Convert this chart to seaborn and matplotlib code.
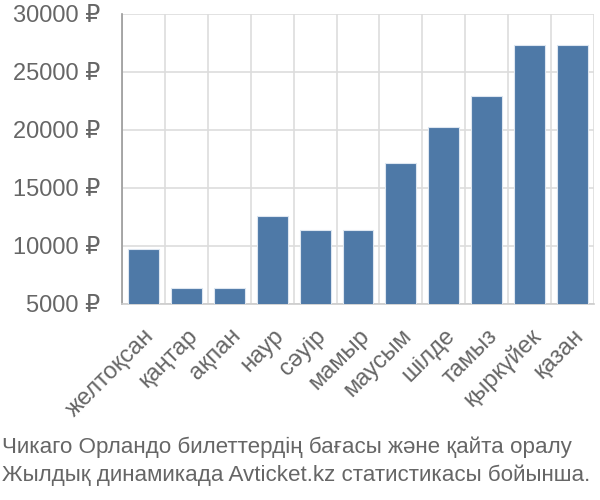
import matplotlib
matplotlib.use("Agg")
import matplotlib.pyplot as plt
from matplotlib import font_manager
import seaborn as sns
import pandas as pd
import numpy as np

months = ["желтоқсан", "қаңтар", "ақпан", "наур", "сәуір", "мамыр",
          "маусым", "шілде", "тамыз", "қыркүйек", "қазан"]
prices = [9700, 6350, 6350, 12600, 11350, 11350, 17150, 20300, 22900, 27350, 27350]
yticks = [5000, 10000, 15000, 20000, 25000, 30000]
caption = ["Чикаго Орландо билеттердің бағасы және қайта оралу",
           "Жылдық динамикада Avticket.kz статистикасы бойынша."]

sns.set_theme(style="white")
plt.rcParams['font.family'] = ['Liberation Sans', 'DejaVu Sans']

# pick a narrow font for the caption if available
narrow_ok = False
try:
    p = font_manager.findfont(font_manager.FontProperties(family="Liberation Sans Narrow"),
                              fallback_to_default=False)
    narrow_ok = "Narrow" in p
except Exception:
    narrow_ok = False
if narrow_ok:
    cap_fam = ['Liberation Sans Narrow', 'DejaVu Sans']
    cap_size = 20
else:
    cap_fam = ['Liberation Sans', 'DejaVu Sans']
    cap_size = 16.1

df = pd.DataFrame({"month": months, "price": prices})

fig = plt.figure(figsize=(6, 5), dpi=100)
ax = fig.add_axes([122/600, 1 - 304/500, (594-122)/600, (304-14)/500])

sns.barplot(data=df, x="month", y="price", color="#4e79a7", saturation=1,
            width=0.72, edgecolor="#dde6f0", linewidth=0.8, ax=ax, zorder=3)

ax.set_ylim(5000, 30000)
ax.set_xlim(-0.5, len(months) - 0.5)
ax.set_yticks(yticks)
ax.set_yticklabels([f"{v} ₽" for v in yticks])
ax.set_xlabel("")
ax.set_ylabel("")

# grid
ax.set_xticks(np.arange(-0.5, len(months), 1.0), minor=True)
ax.grid(axis="y", which="major", color="#dddddd", linewidth=1.2, zorder=0)
ax.grid(axis="x", which="minor", color="#dddddd", linewidth=1.2, zorder=0)
ax.set_axisbelow(True)

for s in ["top", "right"]:
    ax.spines[s].set_visible(False)
ax.spines["left"].set_color("#999999")
ax.spines["left"].set_linewidth(1.2)
ax.spines["bottom"].set_color("#cccccc")
ax.spines["bottom"].set_linewidth(1.2)

ax.tick_params(axis="x", which="major", length=0, pad=15)
ax.tick_params(axis="x", which="minor", length=14, color="#cccccc", width=1.2)
ax.tick_params(axis="y", which="major", length=15, color="#dddddd", width=1.2, pad=1)

for lab in ax.get_yticklabels():
    lab.set_fontsize(17)
    lab.set_color("#666666")
ax.set_xticks(range(len(months)))
ax.set_xticklabels(months, rotation=45, ha="right", rotation_mode="anchor",
                   fontsize=17, color="#666666")

fig.text(2/600, 1 - 453/500, caption[0], fontsize=cap_size, color="#666666",
         family=cap_fam, va="baseline", ha="left")
fig.text(2/600, 1 - 481/500, caption[1], fontsize=cap_size, color="#666666",
         family=cap_fam, va="baseline", ha="left")

fig.savefig("out.png", dpi=100)
